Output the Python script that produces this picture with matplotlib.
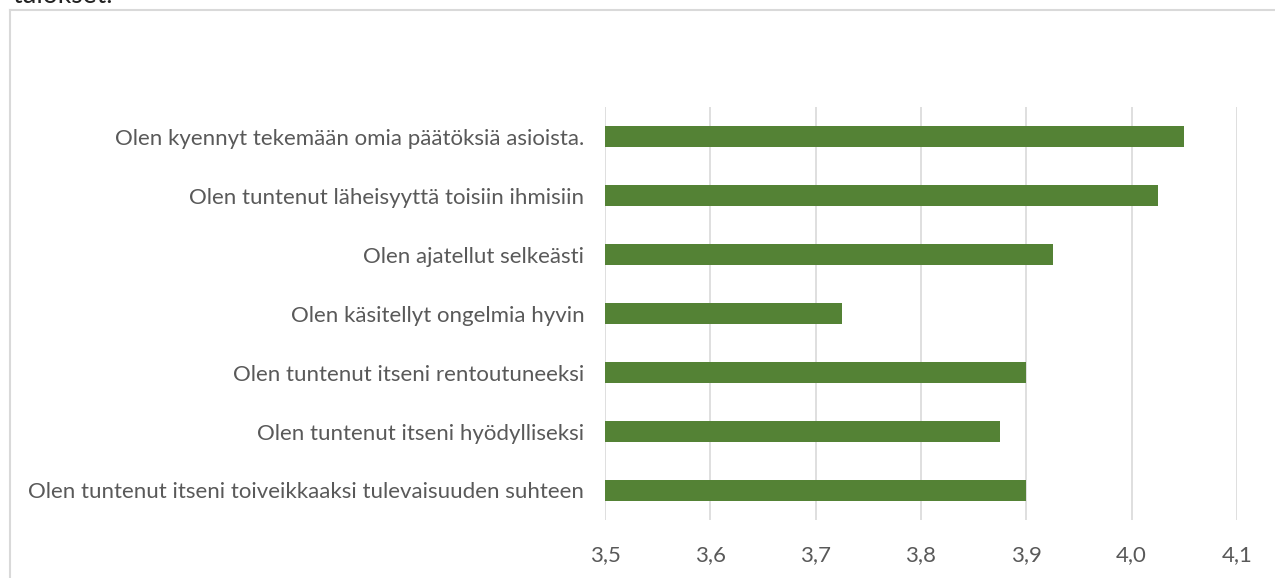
import matplotlib.pyplot as plt
from matplotlib.lines import Line2D
from matplotlib.ticker import FuncFormatter

labels = ['Olen kyennyt tekemään omia päätöksiä asioista.',
          'Olen tuntenut läheisyyttä toisiin ihmisiin',
          'Olen ajatellut selkeästi',
          'Olen käsitellyt ongelmia hyvin',
          'Olen tuntenut itseni rentoutuneeksi',
          'Olen tuntenut itseni hyödylliseksi',
          'Olen tuntenut itseni toiveikkaaksi tulevaisuuden suhteen']
values = [4.05, 4.025, 3.925, 3.725, 3.9, 3.875, 3.9]
xticks = [3.5, 3.6, 3.7, 3.8, 3.9, 4.0, 4.1]

plt.rcParams['font.family'] = ['Lato', 'DejaVu Sans']
txt = '#595959'

fig = plt.figure(figsize=(12.75, 5.78), dpi=100)
ax = fig.add_axes([605/1275, 1 - 520/578, (1237 - 605)/1275, (520 - 107)/578])

pos = list(range(len(labels)))[::-1]
ax.barh(pos, [v - 3.5 for v in values], left=3.5, height=0.34, color='#548235', zorder=3)

ax.set_xlim(3.5, 4.1)
ax.set_ylim(-0.5, 6.5)
ax.set_xticks(xticks)
ax.xaxis.set_major_formatter(FuncFormatter(lambda v, p: ('%.1f' % v).replace('.', ',')))
ax.set_yticks(pos)
ax.set_yticklabels(labels)
ax.grid(axis='x', color='#d9d9d9', linewidth=1.2, zorder=0)
for s in ax.spines.values():
    s.set_visible(False)
ax.tick_params(axis='y', length=0, labelsize=16, colors=txt, pad=15)
ax.tick_params(axis='x', length=0, labelsize=16, colors=txt, pad=18)

# outer chart frame (cropped at right and bottom)
fig.add_artist(Line2D([10/1275, 10/1275], [0, 1 - 10/578], color='#d9d9d9', lw=1.5, transform=fig.transFigure))
fig.add_artist(Line2D([10/1275, 1], [1 - 10/578, 1 - 10/578], color='#d9d9d9', lw=1.5, transform=fig.transFigure))

# caption text above the frame, cut by the top edge
fig.text(12/1275, 1 - 3/578, 'tulokset.', fontsize=19, color='#222222', va='baseline', ha='left')

fig.savefig('out.png', dpi=100)
